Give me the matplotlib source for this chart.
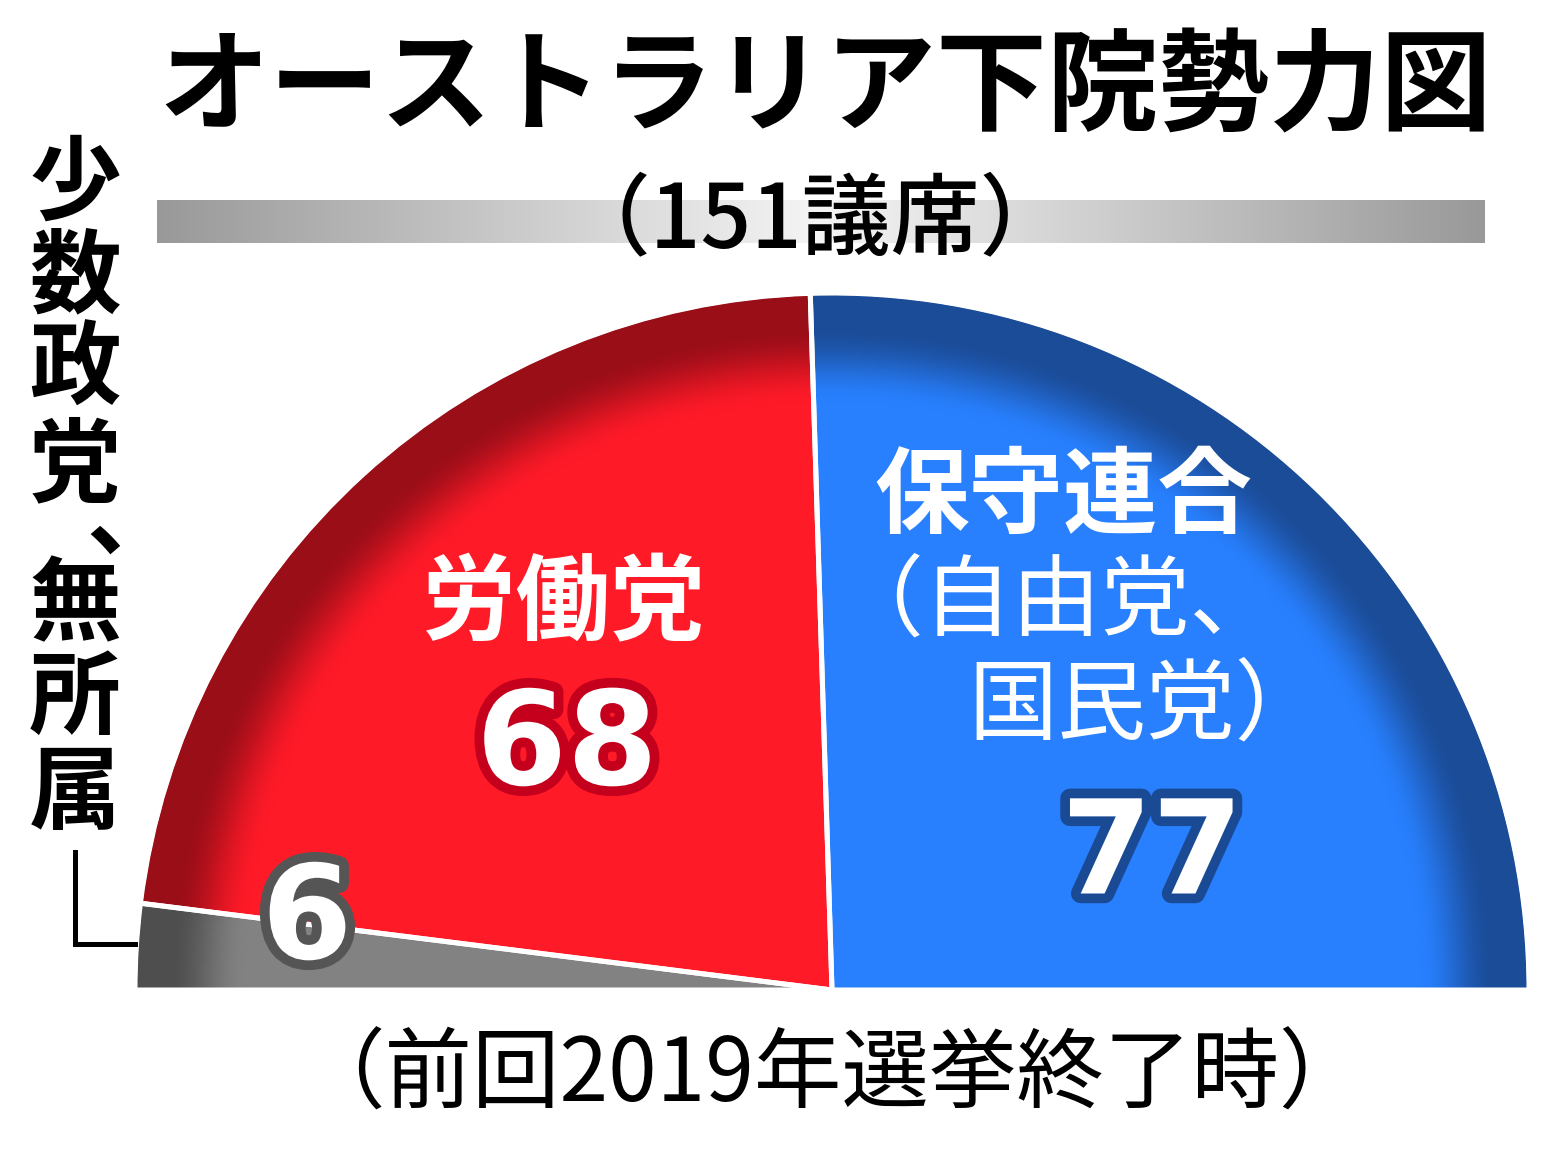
import numpy as np
import matplotlib
matplotlib.use('Agg')
import matplotlib.pyplot as plt
from matplotlib.patches import Wedge
from matplotlib import patheffects as pe
from matplotlib.colors import to_rgb

# ---------------- data ----------------
title = 'オーストラリア下院勢力図'
total_label = '（151議席）'
note = '（前回2019年選挙終了時）'
minor_label = '少数政党、無所属'
labour_label = '労働党'
coalition_label = '保守連合'
coalition_sub1 = '（自由党、'
coalition_sub2 = '国民党）'
seats = [6, 68, 77]                      # minor/indep, Labor, Coalition
base_colors = ['#828282', '#ff1a28', '#2880ff']
rim_colors = ['#4e4e4e', '#9a0e18', '#1b4c98']
outline_colors = ['#555555', '#c4001c', '#1a4a94']

plt.rcParams['font.family'] = ['Noto Sans CJK JP', 'DejaVu Sans']

W, H = 1559, 1153
fig = plt.figure(figsize=(W / 100, H / 100), dpi=100)
ax = fig.add_axes([0, 0, 1, 1])
ax.set_xlim(0, W)
ax.set_ylim(H, 0)
ax.axis('off')

# ---------------- semicircle ----------------
cx, cy, R = 832, 990, 695
x0, x1, y0, y1 = cx - R, cx + R, cy - R, cy
nx, ny = 2 * R, R
xs = np.linspace(x0, x1, nx)
ys = np.linspace(y0, y1, ny)
XX, YY = np.meshgrid(xs, ys)
rn = np.sqrt((XX - cx) ** 2 + (YY - cy) ** 2) / R
t = np.clip((rn - 0.845) / (0.955 - 0.845), 0, 1)
t = t * t * (3 - 2 * t)

total = sum(seats)
start = 180.0
angles = []
for i, s in enumerate(seats):
    end = start + s / total * 180.0
    angles.append((start, end))
    b = np.array(to_rgb(base_colors[i]))
    r = np.array(to_rgb(rim_colors[i]))
    img = b[None, None, :] * (1 - t[..., None]) + r[None, None, :] * t[..., None]
    wedge = Wedge((cx, cy), R, start, end, facecolor='none', edgecolor='none')
    ax.add_patch(wedge)
    im = ax.imshow(img, extent=(x0, x1, y1, y0), origin='upper',
                   interpolation='bilinear', zorder=1)
    im.set_clip_path(wedge)
    start = end

for (a0, a1) in angles:
    ax.add_patch(Wedge((cx, cy), R + 2, a0, a1, facecolor='none',
                       edgecolor='white', linewidth=3.6, zorder=2))

ax.set_xlim(0, W)
ax.set_ylim(H, 0)
ax.set_aspect('auto')

# ---------------- header ----------------
ax.text(825, 90, title, ha='center', va='center', fontsize=80,
        fontweight='bold', color='black', zorder=5)

g = np.concatenate([np.linspace(0.60, 0.96, 200), np.linspace(0.96, 0.60, 200)])
bar = np.repeat(g[None, :, None], 3, axis=2)
ax.imshow(bar, extent=(157, 1485, 243, 200), origin='upper', aspect='auto',
          interpolation='bilinear', zorder=3)
ax.set_xlim(0, W)
ax.set_ylim(H, 0)
ax.set_aspect('auto')
ax.text(815, 222, total_label, ha='center', va='center', fontsize=64,
        fontweight='medium', color='black', zorder=5)

# ---------------- left vertical label ----------------
v_y = [186, 278, 371, 467, 548, 606, 700, 795]
v_x = [75, 75, 75, 75, 86, 75, 75, 75]
for ch, xx, yy in zip(minor_label, v_x, v_y):
    if ch == '、':
        ax.text(xx, yy, ch, ha='left', va='baseline', fontsize=66,
                fontweight='bold', color='black', zorder=5)
    else:
        ax.text(xx, yy, ch, ha='center', va='center', fontsize=66,
                fontweight='bold', color='black', zorder=5)
ax.plot([75, 75, 135], [852, 944, 944], color='black', lw=3.6,
        solid_joinstyle='miter', zorder=5)

# ---------------- slice labels ----------------
ax.text(564, 606, labour_label, ha='center', va='center', fontsize=68,
        fontweight='bold', color='white', zorder=5)
ax.text(1063, 498, coalition_label, ha='center', va='center', fontsize=68,
        fontweight='bold', color='white', zorder=5)
ax.text(834, 603, coalition_sub1, ha='left', va='center', fontsize=64,
        color='white', zorder=5)
ax.text(968, 707, coalition_sub2, ha='left', va='center', fontsize=64,
        color='white', zorder=5)

num_pos = [(307, 922), (567, 748), (1152, 857)]
for i, s in enumerate(seats):
    ax.text(num_pos[i][0], num_pos[i][1], str(s), ha='center', va='center',
            fontsize=94, fontweight='bold', family='DejaVu Sans', color='white',
            zorder=6,
            path_effects=[pe.Stroke(linewidth=14, foreground=outline_colors[i],
                                    joinstyle='round'), pe.Normal()])

# ---------------- footnote ----------------
ax.text(832, 1077, note, ha='center', va='center', fontsize=63,
        color='black', zorder=5)

fig.savefig('out.png', dpi=100, facecolor='white')
